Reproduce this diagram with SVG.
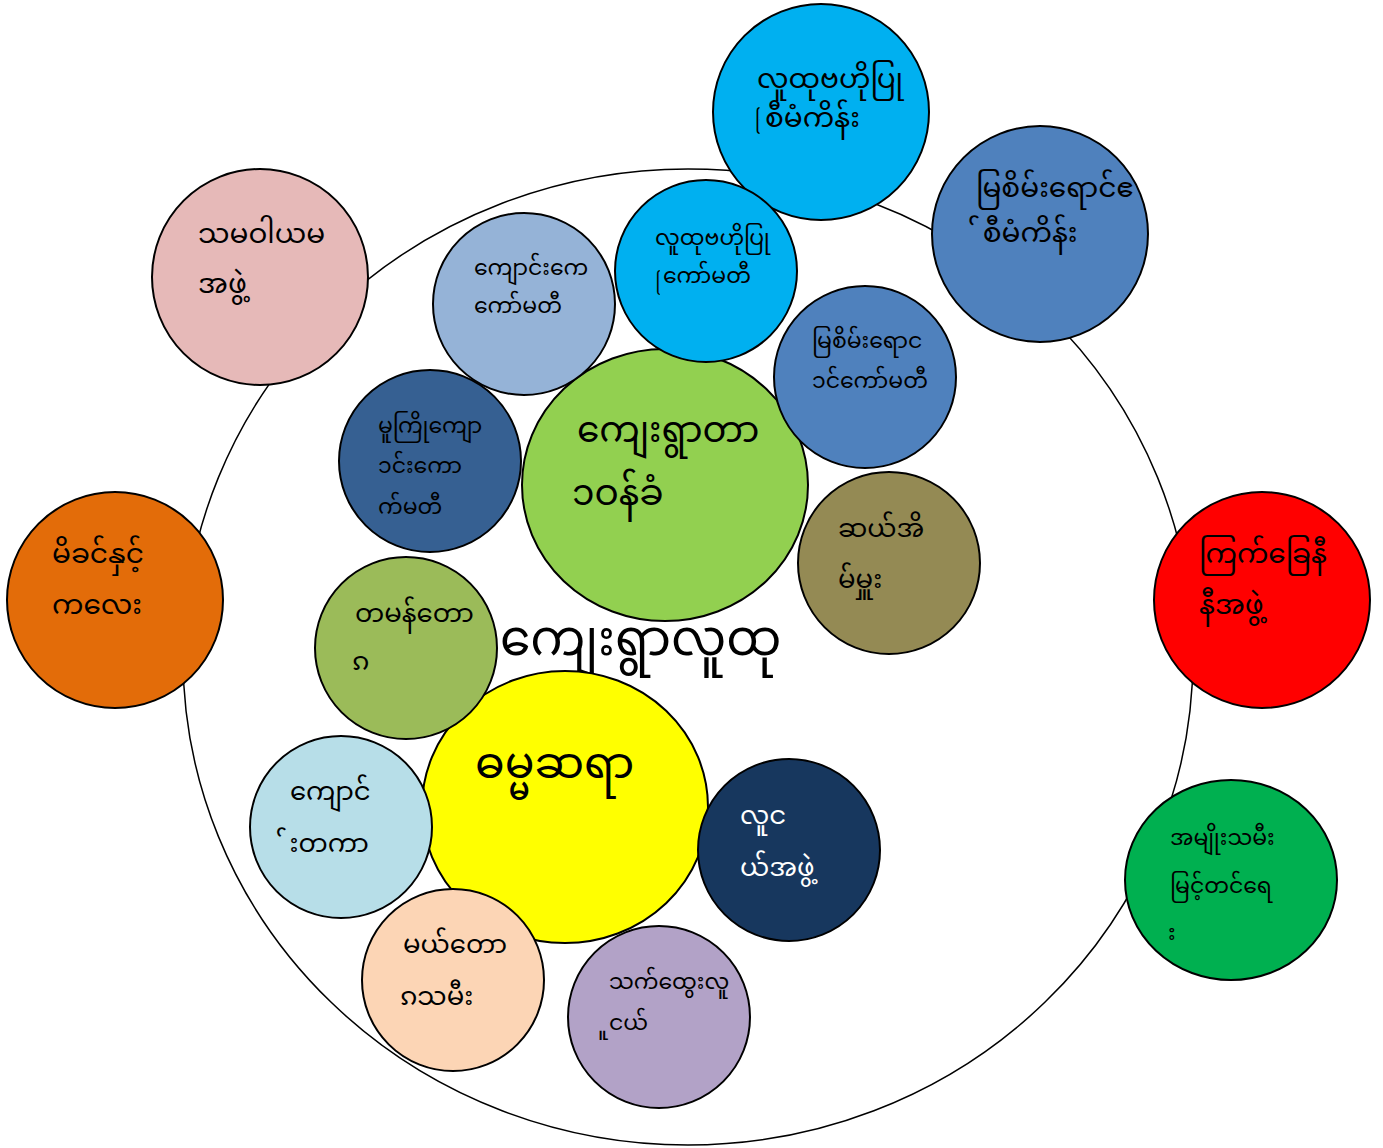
<svg xmlns="http://www.w3.org/2000/svg" width="1383" height="1148" viewBox="0 0 1383 1148">
<style>
.c{stroke:#000;stroke-width:2}
.t{font-family:"Noto Sans Myanmar","Myanmar Text","Padauk","Noto Sans","DejaVu Sans",sans-serif;fill:#000}
.o{font-size:28px}
.i{font-size:22px}
.m{font-size:26px}
.b{font-size:36px}
.w{fill:#fff}
</style>
<defs>
<clipPath id="k-rb" clipPathUnits="userSpaceOnUse"><path clip-rule="evenodd" d="M950 195H1150V275H950Z M966 225.5H983.2V242.3H966Z"/></clipPath>
<clipPath id="k-lb" clipPathUnits="userSpaceOnUse"><path clip-rule="evenodd" d="M260 810H440V880H260Z M273 836.7H289.1V852.3H273Z"/></clipPath>
<clipPath id="k-dg" clipPathUnits="userSpaceOnUse"><path clip-rule="evenodd" d="M1140 900H1200V960H1140Z M1154 927H1167.8V940.3H1154Z"/></clipPath>
<clipPath id="k-pu" clipPathUnits="userSpaceOnUse"><path clip-rule="evenodd" d="M580 990H720V1060H580Z M595 1016.8H608.8V1029.7H595Z"/></clipPath>
<clipPath id="k-tb" clipPathUnits="userSpaceOnUse"><rect x="740" y="95" width="19.5" height="50"/></clipPath>
<clipPath id="k-cy" clipPathUnits="userSpaceOnUse"><rect x="640" y="255" width="19.75" height="50"/></clipPath>
</defs>
<rect width="1383" height="1148" fill="#fff"/>
<g id="connectors">
<ellipse cx="688" cy="657" rx="505" ry="488" fill="none" stroke="#000" stroke-width="1.5"/>
</g>
<g id="title"><text class="t" x="500" y="655" font-size="49">ကျေးရွာလူထု</text></g>
<g id="n-yellow"><ellipse class="c" cx="565" cy="807" rx="143" ry="136" fill="#FFFF00"/><text class="t" x="475" y="778" font-size="44">ဓမ္မဆရာ</text></g>
<g id="n-green"><ellipse class="c" cx="665" cy="485" rx="143" ry="136" fill="#92D050"/><text class="t b" x="577" y="442">ကျေးရွာတာ</text><text class="t b" x="572" y="505">၁ဝန်ခံ</text></g>
<g id="n-top"><circle class="c" cx="821" cy="112" r="108" fill="#00B0F0"/><text class="t o" x="757" y="88">လူထုဗဟိုပြု</text><text class="t" font-size="18" x="755" y="125" clip-path="url(#k-tb)">ြ</text><text class="t o" x="765" y="127">စီမံကိန်း</text></g>
<g id="n-rblue"><circle class="c" cx="1040" cy="234" r="108" fill="#4F81BD"/><text class="t o" x="976" y="197">မြစိမ်းရောင်ဧ</text><text class="t o" x="966" y="242" clip-path="url(#k-rb)">်စီမံကိန်း</text></g>
<g id="n-pink"><circle class="c" cx="260" cy="277" r="108" fill="#E6B9B8"/><text class="t o" x="198" y="243">သမဝါယမ</text><text class="t o" x="198" y="293">အဖွဲ့</text></g>
<g id="n-orange"><circle class="c" cx="115" cy="600" r="108" fill="#E36C09"/><text class="t o" x="52" y="563">မိခင်နှင့်</text><text class="t o" x="52" y="614">ကလေး</text></g>
<g id="n-red"><circle class="c" cx="1262" cy="600" r="108" fill="#FF0000"/><text class="t o" x="1199" y="563">ကြက်ခြေနီ</text><text class="t o" x="1199" y="614">နီအဖွဲ့</text></g>
<g id="n-dgreen"><ellipse class="c" cx="1231" cy="880" rx="106" ry="100" fill="#00B050"/><text class="t i" x="1170" y="845">အမျိုးသမီး</text><text class="t i" x="1170" y="893">မြင့်တင်ရေ</text><text class="t i" x="1155" y="940" clip-path="url(#k-dg)">း</text></g>
<g id="n-kk"><circle class="c" cx="524" cy="304" r="91" fill="#95B3D7"/><text class="t i" x="474" y="275">ကျောင်းကေ</text><text class="t i" x="474" y="313">ကော်မတီ</text></g>
<g id="n-cyan"><circle class="c" cx="706" cy="271" r="91" fill="#00B0F0"/><text class="t i" x="655" y="245">လူထုဗဟိုပြု</text><text class="t" font-size="17" x="655.5" y="287" clip-path="url(#k-cy)">ြ</text><text class="t i" x="663" y="283">ကော်မတီ</text></g>
<g id="n-mblue"><circle class="c" cx="865" cy="377" r="91" fill="#4F81BD"/><text class="t i" x="812" y="348">မြစိမ်းရောင</text><text class="t i" x="812" y="388">၁င်ကော်မတီ</text></g>
<g id="n-dblue"><circle class="c" cx="430" cy="461" r="91" fill="#366092"/><text class="t i" x="378" y="433">မူကြိုကျော</text><text class="t i" x="378" y="473">၁င်းကော</text><text class="t i" x="378" y="514">က်မတီ</text></g>
<g id="n-olive"><circle class="c" cx="889" cy="563" r="91" fill="#948A54"/><text class="t m" x="838" y="537">ဆယ်အိ</text><text class="t m" x="838" y="588">မ်မှူး</text></g>
<g id="n-ogreen"><circle class="c" cx="406" cy="648" r="91" fill="#9BBB59"/><text class="t m" x="355" y="622">တမန်တော</text><text class="t m" x="352" y="670">ၵ</text></g>
<g id="n-lblue"><circle class="c" cx="341" cy="827" r="91" fill="#B7DEE8"/><text class="t m" x="290" y="800">ကျောင်</text><text class="t m" x="274" y="852" clip-path="url(#k-lb)">်းတကာ</text></g>
<g id="n-navy"><circle class="c" cx="789" cy="850" r="91" fill="#17375E"/><text class="t m w" x="740" y="824">လူင</text><text class="t m w" x="740" y="876">ယ်အဖွဲ့</text></g>
<g id="n-peach"><circle class="c" cx="453" cy="980" r="91" fill="#FCD5B5"/><text class="t m" x="403" y="953">မယ်တော</text><text class="t m" x="400" y="1005">ၵသမီး</text></g>
<g id="n-purple"><circle class="c" cx="659" cy="1017" r="91" fill="#B2A2C7"/><text class="t i" x="609" y="989">သက်ထွေးလူ</text><text class="t i" x="596" y="1030" clip-path="url(#k-pu)">ူငယ်</text></g>
</svg>
